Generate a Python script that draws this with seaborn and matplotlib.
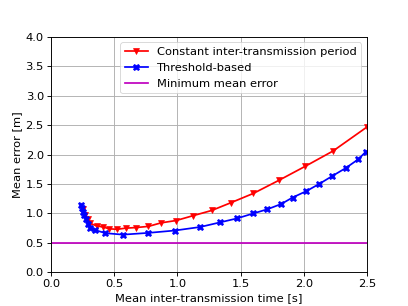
import matplotlib
matplotlib.use("Agg")
import matplotlib.pyplot as plt
import seaborn as sns
import pandas as pd

# values
const_x = [0.25, 0.27, 0.29, 0.31, 0.36, 0.41, 0.46, 0.52, 0.59, 0.67, 0.77,
           0.87, 0.99, 1.12, 1.27, 1.42, 1.60, 1.80, 2.01, 2.23, 2.50]
const_y = [1.08, 0.98, 0.90, 0.83, 0.79, 0.77, 0.74, 0.73, 0.75, 0.76, 0.78,
           0.84, 0.88, 0.96, 1.05, 1.18, 1.34, 1.56, 1.80, 2.06, 2.47]

thr_x = [0.235, 0.245, 0.253, 0.262, 0.275, 0.29, 0.31, 0.346, 0.43, 0.57, 0.77,
         0.98, 1.18, 1.34, 1.47, 1.60, 1.71, 1.82, 1.91, 2.02, 2.12, 2.22,
         2.33, 2.43, 2.49]
thr_y = [1.15, 1.09, 1.03, 0.97, 0.90, 0.82, 0.76, 0.72, 0.665, 0.64, 0.67,
         0.71, 0.77, 0.85, 0.915, 1.00, 1.07, 1.16, 1.27, 1.38, 1.50, 1.63,
         1.77, 1.92, 2.05]

min_error = 0.5

const_df = pd.DataFrame({'x': const_x, 'y': const_y})
thr_df = pd.DataFrame({'x': thr_x, 'y': thr_y})

# everything a bit bigger than matplotlib defaults at this dpi
s = 1.3
plt.rcParams.update({
    'font.size': 10 * s,
    'axes.linewidth': 0.8 * s,
    'xtick.major.width': 0.8 * s,
    'ytick.major.width': 0.8 * s,
    'xtick.major.size': 3.5 * s,
    'ytick.major.size': 3.5 * s,
    'legend.fontsize': 10 * s,
})

fig, ax = plt.subplots(figsize=(6.4, 4.8), dpi=63.75)

sns.lineplot(data=const_df, x='x', y='y', ax=ax, color='red', marker='v',
             markersize=6 * s, markeredgecolor='red', linewidth=1.5 * s,
             sort=False, label='Constant inter-transmission period')
sns.lineplot(data=thr_df, x='x', y='y', ax=ax, color='blue', marker='X',
             markersize=6 * s, markeredgecolor='blue', linewidth=1.5 * s,
             sort=False, label='Threshold-based')
ax.axhline(min_error, color='m', linewidth=1.5 * s, label='Minimum mean error')

ax.set_xlim(0, 2.5)
ax.set_ylim(0, 4)
ax.grid(True, color='#b0b0b0', linewidth=0.8 * s)
ax.set_xlabel('Mean inter-transmission time [s]')
ax.set_ylabel('Mean error [m]')
ax.legend(loc='upper right')

fig.savefig('out.png', dpi=63.75)
